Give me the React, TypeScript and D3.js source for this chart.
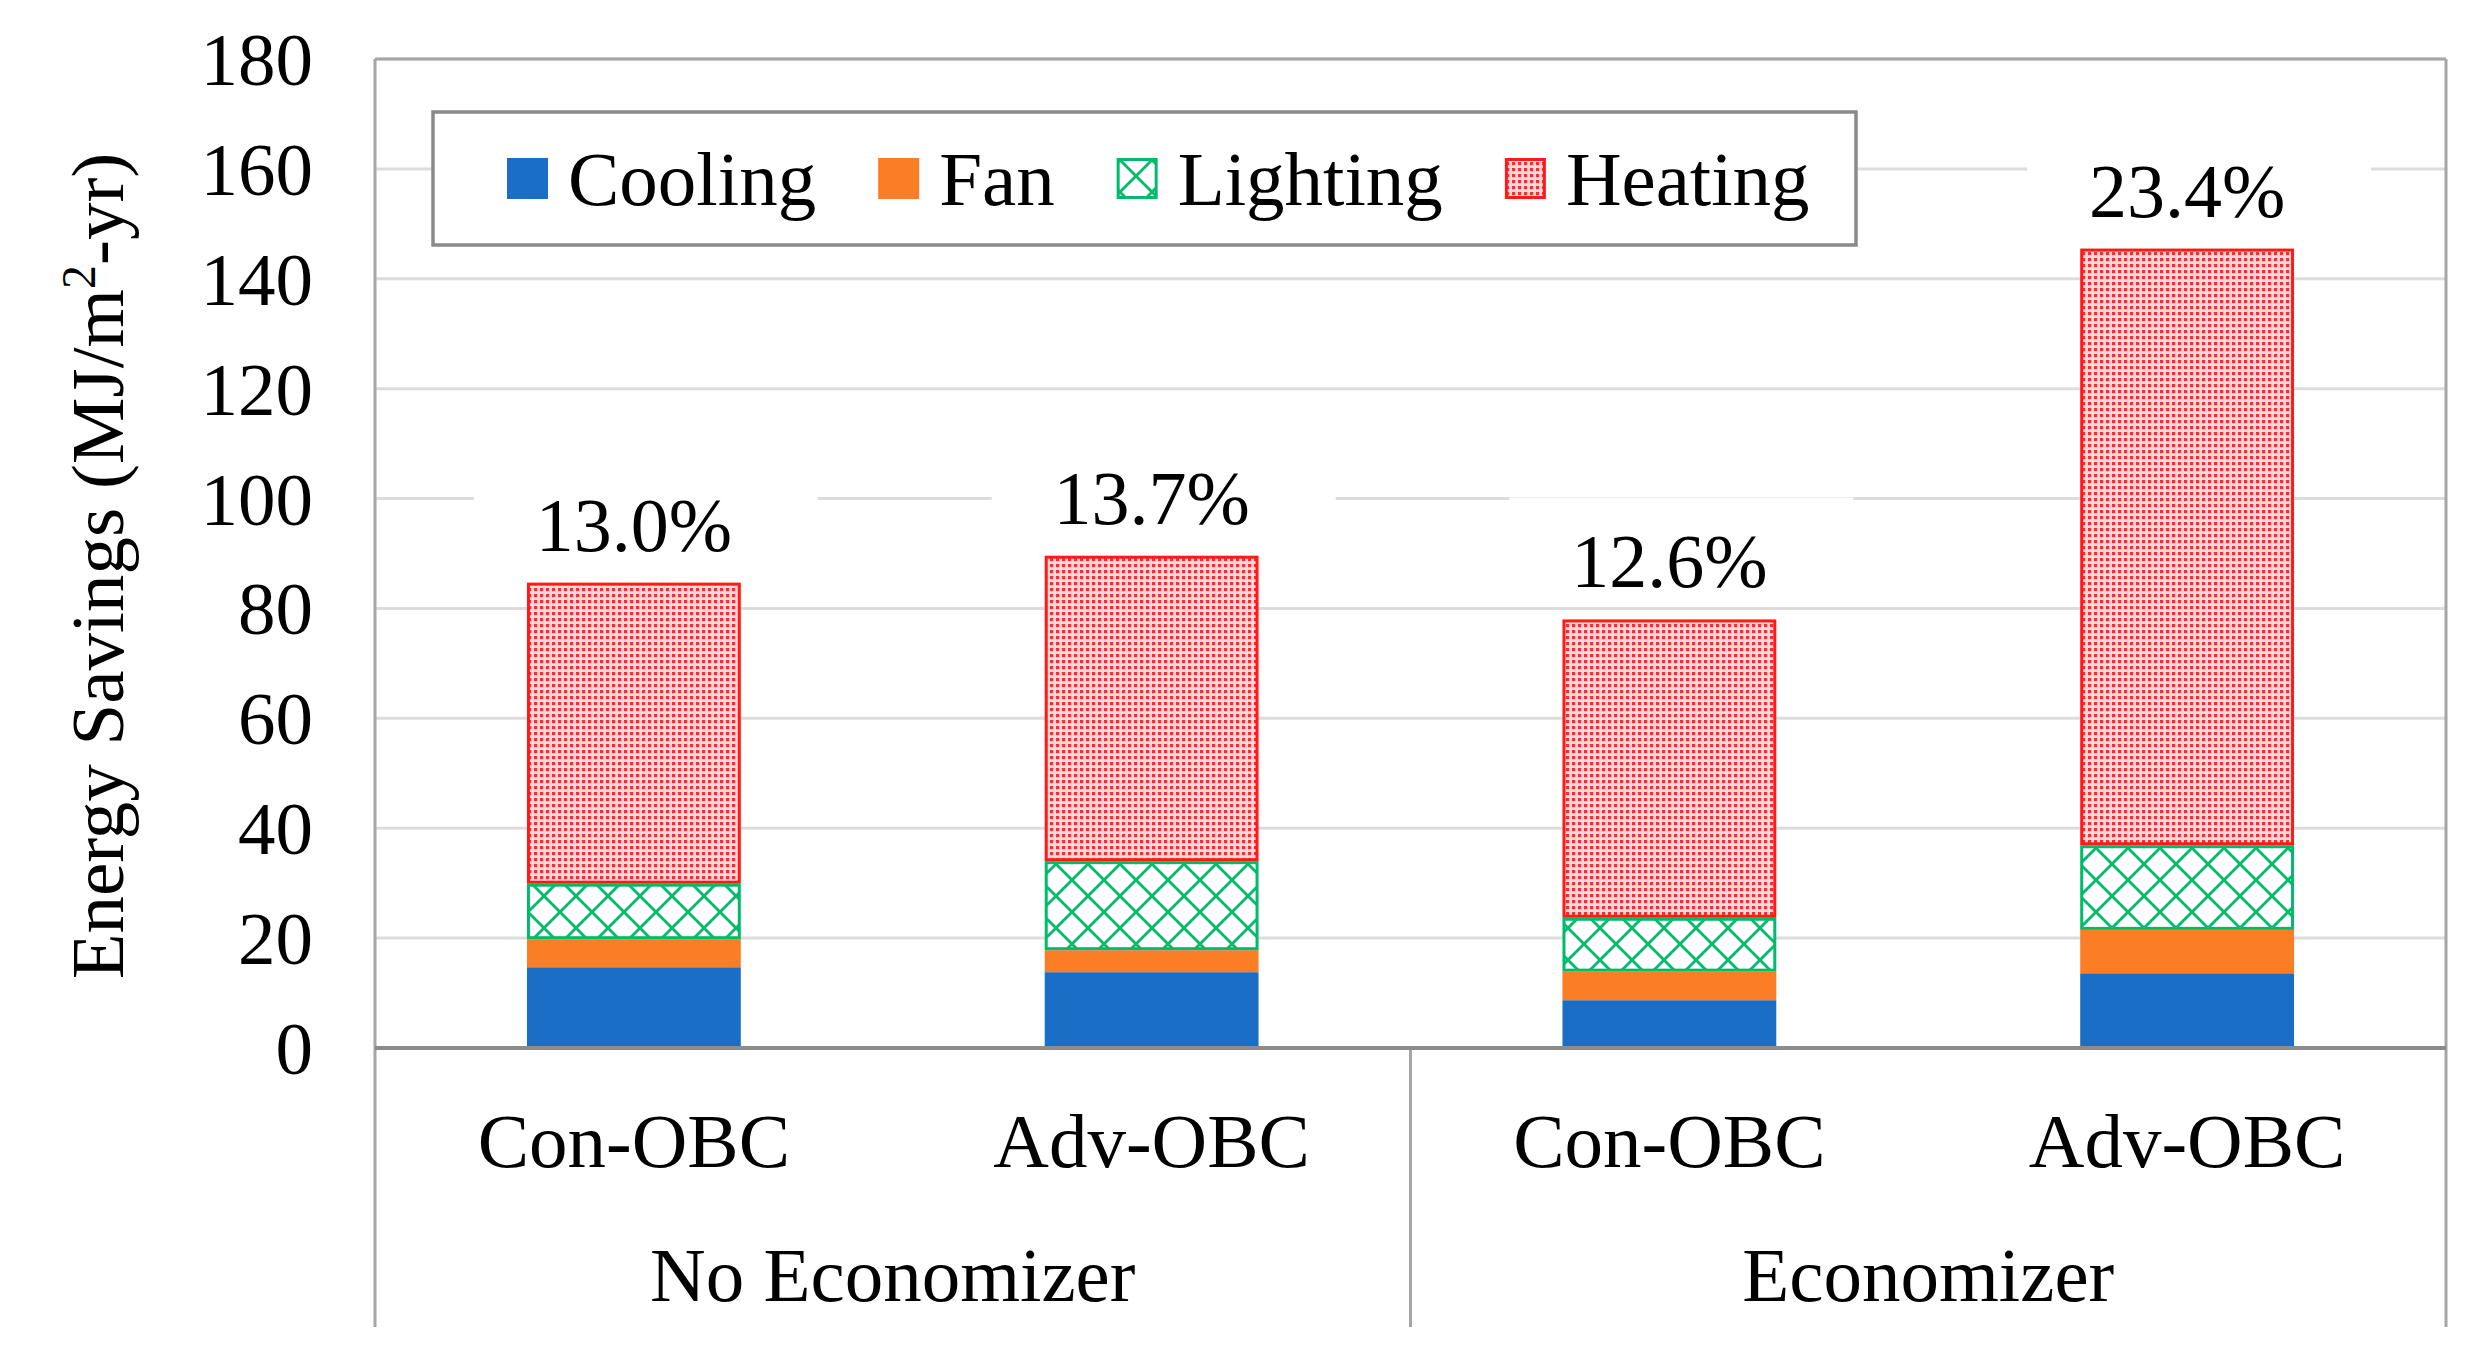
import React, { useEffect, useRef } from 'react';
import * as d3 from 'd3';

// chart values
const categories = ['Con-OBC', 'Adv-OBC', 'Con-OBC', 'Adv-OBC'];
const groups = ['No Economizer', 'Economizer'];
const groupOf = [0, 0, 1, 1];
const seriesNames = ['Cooling', 'Fan', 'Lighting', 'Heating'];
const cooling = [14.7, 13.8, 8.7, 13.6];
const fan = [5.1, 4.0, 5.2, 7.9];
const lighting = [10.1, 16.2, 9.8, 15.4];
const heating = [54.8, 55.6, 54.3, 108.6];
const percentLabels = ['13.0%', '13.7%', '12.6%', '23.4%'];
const yTicks = [0, 20, 40, 60, 80, 100, 120, 140, 160, 180];

type Row = { idx: string; Cooling: number; Fan: number; Lighting: number; Heating: number };

const W = 2489;
const H = 1371;
const FONT = '"Liberation Serif", "Times New Roman", serif';

const App: React.FC = () => {
  const svgRef = useRef<SVGSVGElement | null>(null);

  useEffect(() => {
    const margin = { top: 59, right: 43, bottom: 323, left: 375 };
    const plotRight = W - margin.right;
    const plotBottom = H - margin.bottom;
    const catBottom = 1327;

    const rows: Row[] = categories.map((_, i) => ({
      idx: String(i),
      Cooling: cooling[i],
      Fan: fan[i],
      Lighting: lighting[i],
      Heating: heating[i],
    }));

    const x = d3.scaleBand<string>()
      .domain(rows.map(d => d.idx))
      .range([margin.left, plotRight])
      .paddingInner(0.587)
      .paddingOuter(0.2935);

    const y = d3.scaleLinear()
      .domain([0, 180])
      .range([plotBottom, margin.top]);

    const stacked = d3.stack<Row>().keys(seriesNames)(rows);

    const svg = d3.select(svgRef.current)
      .attr('width', W)
      .attr('height', H);

    svg.selectAll('*').remove();

    // patterns
    const defs = svg.append('defs');
    const P = 32;
    const hatch = defs.append('pattern')
      .attr('id', 'lightHatch')
      .attr('patternUnits', 'userSpaceOnUse')
      .attr('width', P)
      .attr('height', P);
    hatch.append('rect').attr('width', P).attr('height', P).attr('fill', '#fff');
    hatch.append('path')
      .attr('d', `M-4,-4L${P + 4},${P + 4}M-4,${P + 4}L${P + 4},-4`)
      .attr('stroke', '#00bb6a')
      .attr('stroke-width', 2.8);

    const dots = defs.append('pattern')
      .attr('id', 'heatDots')
      .attr('patternUnits', 'userSpaceOnUse')
      .attr('width', 6)
      .attr('height', 6);
    dots.append('rect').attr('width', 6).attr('height', 6).attr('fill', '#ffd9d9');
    dots.append('rect').attr('width', 3.2).attr('height', 3.2).attr('fill', '#ff2a2a');

    const fills: Record<string, string> = {
      Cooling: '#1b6ec5',
      Fan: '#fb7e26',
      Lighting: 'url(#lightHatch)',
      Heating: 'url(#heatDots)',
    };
    const strokes: Record<string, string> = {
      Cooling: 'none',
      Fan: 'none',
      Lighting: '#00bb6a',
      Heating: '#ff1a1a',
    };

    svg.append('rect').attr('width', W).attr('height', H).attr('fill', '#fff');

    // gridlines
    svg.append('g')
      .selectAll('line')
      .data(yTicks.filter(t => t > 0))
      .join('line')
      .attr('x1', margin.left)
      .attr('x2', plotRight)
      .attr('y1', d => y(d))
      .attr('y2', d => y(d))
      .attr('stroke', '#dcdcdc')
      .attr('stroke-width', 3);

    // white boxes behind the percent labels
    const totals = rows.map((_, i) => cooling[i] + fan[i] + lighting[i] + heating[i]);
    svg.append('g')
      .selectAll('rect')
      .data(totals)
      .join('rect')
      .attr('x', (_, i) => (x(String(i)) as number) + x.bandwidth() / 2 - 160)
      .attr('y', d => y(d) - 122)
      .attr('width', 344)
      .attr('height', 105)
      .attr('fill', '#fff');

    // bars
    svg.append('g')
      .selectAll('g')
      .data(stacked)
      .join('g')
      .each(function (series) {
        const inset = strokes[series.key] === 'none' ? 0 : 1.5;
        d3.select(this)
          .selectAll('rect')
          .data(series)
          .join('rect')
          .attr('x', d => (x(d.data.idx) as number) + inset)
          .attr('y', d => y(d[1]) + inset)
          .attr('width', x.bandwidth() - inset * 2)
          .attr('height', d => y(d[0]) - y(d[1]) - inset * 2)
          .attr('fill', fills[series.key])
          .attr('stroke', strokes[series.key])
          .attr('stroke-width', 3);
      });

    // percent labels
    svg.append('g')
      .selectAll('text')
      .data(totals)
      .join('text')
      .attr('x', (_, i) => (x(String(i)) as number) + x.bandwidth() / 2)
      .attr('y', d => y(d) - 32)
      .attr('text-anchor', 'middle')
      .attr('font-family', FONT)
      .attr('font-size', 76)
      .attr('fill', '#000')
      .text((_, i) => percentLabels[i]);

    // frame and category separators
    const frame = svg.append('g').attr('stroke', '#a6a6a6').attr('stroke-width', 3).attr('fill', 'none');
    frame.append('line').attr('x1', margin.left).attr('x2', plotRight).attr('y1', margin.top).attr('y2', margin.top);
    frame.append('line').attr('x1', margin.left).attr('x2', margin.left).attr('y1', margin.top).attr('y2', catBottom);
    frame.append('line').attr('x1', plotRight).attr('x2', plotRight).attr('y1', margin.top).attr('y2', catBottom);
    const sepX = (x(String(2)) as number) - x.step() * x.paddingInner() / 2;
    frame.append('line').attr('x1', sepX).attr('x2', sepX).attr('y1', plotBottom).attr('y2', catBottom);
    svg.append('line')
      .attr('x1', margin.left).attr('x2', plotRight)
      .attr('y1', plotBottom).attr('y2', plotBottom)
      .attr('stroke', '#8c8c8c')
      .attr('stroke-width', 4);

    // y tick labels
    svg.append('g')
      .selectAll('text')
      .data(yTicks)
      .join('text')
      .attr('x', 313)
      .attr('y', d => y(d) + 26)
      .attr('text-anchor', 'end')
      .attr('font-family', FONT)
      .attr('font-size', 75)
      .text(d => d);

    // category labels
    svg.append('g')
      .selectAll('text')
      .data(categories)
      .join('text')
      .attr('x', (_, i) => (x(String(i)) as number) + x.bandwidth() / 2)
      .attr('y', 1167)
      .attr('text-anchor', 'middle')
      .attr('font-family', FONT)
      .attr('font-size', 77)
      .text(d => d);

    // group labels
    svg.append('g')
      .selectAll('text')
      .data(groups)
      .join('text')
      .attr('x', (_, gi) => {
        const idxs = groupOf.map((g, i) => (g === gi ? i : -1)).filter(i => i >= 0);
        const a = (x(String(idxs[0])) as number) - x.step() * x.paddingInner() / 2;
        const b = (x(String(idxs[idxs.length - 1])) as number) + x.bandwidth() + x.step() * x.paddingInner() / 2;
        return (a + b) / 2;
      })
      .attr('y', 1301)
      .attr('text-anchor', 'middle')
      .attr('font-family', FONT)
      .attr('font-size', 77)
      .text(d => d);

    // y axis title
    const title = svg.append('text')
      .attr('transform', `translate(123,566) rotate(-90)`)
      .attr('text-anchor', 'middle')
      .attr('font-family', FONT)
      .attr('font-size', 75);
    title.append('tspan').text('Energy Savings  (MJ/m');
    title.append('tspan').attr('font-size', 48).attr('dy', -28).text('2');
    title.append('tspan').attr('dy', 28).text('-yr)');

    // legend
    const legend = svg.append('g');
    legend.append('rect')
      .attr('x', 433).attr('y', 112)
      .attr('width', 1423).attr('height', 133)
      .attr('fill', '#fff')
      .attr('stroke', '#8a8a8a')
      .attr('stroke-width', 3.5);
    let lx = 507;
    seriesNames.forEach(name => {
      const stroked = strokes[name] !== 'none';
      legend.append('rect')
        .attr('x', lx + (stroked ? 1.5 : 0))
        .attr('y', 158 + (stroked ? 1.5 : 0))
        .attr('width', stroked ? 38 : 41)
        .attr('height', stroked ? 38 : 41)
        .attr('fill', fills[name])
        .attr('stroke', strokes[name])
        .attr('stroke-width', 3);
      const t = legend.append('text')
        .attr('x', lx + 61)
        .attr('y', 205)
        .attr('font-family', FONT)
        .attr('font-size', 77)
        .text(name);
      const len = (t.node() as SVGTextElement).getComputedTextLength();
      lx = lx + 61 + len + 62;
    });
  }, []);

  return (
    <svg ref={svgRef} style={{ position: 'absolute', left: 0, top: 0 }}></svg>
  );
};

export default App;
